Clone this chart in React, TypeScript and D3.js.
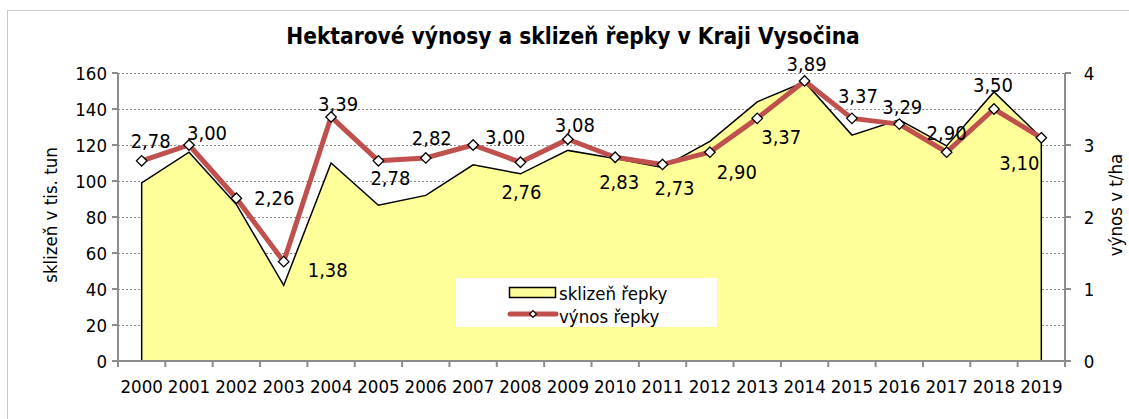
import { useRef, useEffect } from 'react';
import * as d3 from 'd3';

// data
const years = ['2000', '2001', '2002', '2003', '2004', '2005', '2006', '2007', '2008', '2009',
  '2010', '2011', '2012', '2013', '2014', '2015', '2016', '2017', '2018', '2019'];
const harvest = [99, 116, 87, 42, 110, 86.5, 92, 109, 104, 117, 112.5, 107.5, 122, 144, 155, 125.5, 134, 119.5, 149.5, 124];
const yieldHa = [2.78, 3.0, 2.26, 1.38, 3.39, 2.78, 2.82, 3.0, 2.76, 3.08, 2.83, 2.73, 2.9, 3.37, 3.89, 3.37, 3.29, 2.9, 3.5, 3.1];
const leftTicks = [0, 20, 40, 60, 80, 100, 120, 140, 160];
const rightTicks = [0, 1, 2, 3, 4];

// label placement relative to each point (dx, dy)
const labelOffsets = [
  [9, -20], [18, -12], [38, 0], [44, 8], [7, -13], [12, 17], [6, -20], [32, -8], [1, 30], [7, -14],
  [4, 25], [12, 23], [27, 20], [24, 18], [2, -17], [6, -23], [3, -17], [0, -19], [-1, -24], [-22, 25],
];

const FONT = "Tahoma, 'DejaVu Sans Condensed', 'DejaVu Sans', sans-serif";

const App = () => {
  const svgRef = useRef<SVGSVGElement>(null);

  useEffect(() => {
    const width = 1129;
    const height = 419;
    const margin = { top: 73, right: 64, bottom: 58, left: 118 };
    const svg = d3.select(svgRef.current);
    svg.selectAll('*').remove();

    svg.append('rect')
      .attr('x', 7.5).attr('y', 10.5)
      .attr('width', 1130).attr('height', 430)
      .attr('fill', 'white').attr('stroke', '#c8c8c8').attr('stroke-width', 1);

    const x = d3.scaleBand()
      .domain(years)
      .range([margin.left, width - margin.right]);
    const cx = (d: string) => (x(d) as number) + x.bandwidth() / 2;

    const yL = d3.scaleLinear().domain([0, 160]).range([height - margin.bottom, margin.top]);
    const yR = d3.scaleLinear().domain([0, 4]).range([height - margin.bottom, margin.top]);
    const x0 = margin.left;
    const x1 = width - margin.right;

    // gridlines
    svg.append('g')
      .selectAll('line')
      .data(leftTicks.slice(1))
      .enter()
      .append('line')
      .attr('x1', x0).attr('x2', x1)
      .attr('y1', d => Math.round(yL(d)) + 0.5)
      .attr('y2', d => Math.round(yL(d)) + 0.5)
      .attr('stroke', '#8c8c8c')
      .attr('stroke-width', 1.2)
      .attr('stroke-dasharray', '2,2');

    // area (harvest)
    const area = d3.area<number>()
      .x((_, i) => cx(years[i]))
      .y0(yL(0))
      .y1(d => yL(d));
    svg.append('path')
      .datum(harvest)
      .attr('d', area)
      .attr('fill', '#ffff99')
      .attr('stroke', 'black')
      .attr('stroke-width', 1.5)
      .attr('stroke-linejoin', 'miter');

    // axes
    const axisColor = '#8c8c8c';
    const axG = svg.append('g');
    axG.append('line')
      .attr('x1', x0).attr('x2', x0).attr('y1', yL(160)).attr('y2', yL(0))
      .attr('stroke', axisColor).attr('stroke-width', 2);
    axG.append('line')
      .attr('x1', x1).attr('x2', x1).attr('y1', yL(160)).attr('y2', yL(0))
      .attr('stroke', axisColor).attr('stroke-width', 2);
    axG.append('line')
      .attr('x1', x0 - 6).attr('x2', x1 + 6).attr('y1', yL(0)).attr('y2', yL(0))
      .attr('stroke', axisColor).attr('stroke-width', 2);

    axG.selectAll('line.lt')
      .data(leftTicks)
      .enter()
      .append('line')
      .attr('class', 'lt')
      .attr('x1', x0 - 6).attr('x2', x0)
      .attr('y1', d => yL(d)).attr('y2', d => yL(d))
      .attr('stroke', axisColor).attr('stroke-width', 2);
    axG.selectAll('text.ltl')
      .data(leftTicks)
      .enter()
      .append('text')
      .attr('class', 'ltl')
      .attr('x', x0 - 11)
      .attr('y', d => yL(d))
      .attr('dy', '0.36em')
      .attr('text-anchor', 'end')
      .attr('font-family', FONT)
      .attr('font-size', 18.5)
      .text(d => d);

    axG.selectAll('line.rt')
      .data(rightTicks)
      .enter()
      .append('line')
      .attr('class', 'rt')
      .attr('x1', x1).attr('x2', x1 + 6)
      .attr('y1', d => yR(d)).attr('y2', d => yR(d))
      .attr('stroke', axisColor).attr('stroke-width', 2);
    axG.selectAll('text.rtl')
      .data(rightTicks)
      .enter()
      .append('text')
      .attr('class', 'rtl')
      .attr('x', x1 + 24)
      .attr('y', d => yR(d))
      .attr('dy', '0.36em')
      .attr('text-anchor', 'middle')
      .attr('font-family', FONT)
      .attr('font-size', 18.5)
      .text(d => d);

    const bounds = years.map(d => x(d) as number).concat([x1]);
    axG.selectAll('line.xt')
      .data(bounds)
      .enter()
      .append('line')
      .attr('class', 'xt')
      .attr('x1', d => d).attr('x2', d => d)
      .attr('y1', yL(0)).attr('y2', yL(0) + 6)
      .attr('stroke', axisColor).attr('stroke-width', 2);
    axG.selectAll('text.xl')
      .data(years)
      .enter()
      .append('text')
      .attr('class', 'xl')
      .attr('x', d => cx(d))
      .attr('y', yL(0) + 25)
      .attr('dy', '0.36em')
      .attr('text-anchor', 'middle')
      .attr('font-family', FONT)
      .attr('font-size', 18.5)
      .text(d => d);

    // yield line
    const line = d3.line<number>()
      .x((_, i) => cx(years[i]))
      .y(d => yR(d));
    svg.append('path')
      .datum(yieldHa)
      .attr('d', line)
      .attr('fill', 'none')
      .attr('stroke', '#c0504d')
      .attr('stroke-width', 5)
      .attr('stroke-linejoin', 'round');

    svg.selectAll('path.mk')
      .data(yieldHa)
      .enter()
      .append('path')
      .attr('class', 'mk')
      .attr('d', d3.symbol().type(d3.symbolDiamond2).size(70))
      .attr('transform', (d, i) => `translate(${cx(years[i])},${yR(d)})`)
      .attr('fill', 'white')
      .attr('stroke', 'black')
      .attr('stroke-width', 1.3);

    svg.selectAll('text.lbl')
      .data(yieldHa)
      .enter()
      .append('text')
      .attr('class', 'lbl')
      .attr('x', (d, i) => cx(years[i]) + labelOffsets[i][0])
      .attr('y', (d, i) => yR(d) + labelOffsets[i][1])
      .attr('dy', '0.36em')
      .attr('text-anchor', 'middle')
      .attr('font-family', FONT)
      .attr('font-size', 20)
      .text(d => d3.format('.2f')(d).replace('.', ','));

    // titles
    svg.append('text')
      .attr('x', 573).attr('y', 36)
      .attr('dy', '0.36em')
      .attr('text-anchor', 'middle')
      .attr('font-family', FONT)
      .attr('font-weight', 'bold')
      .attr('font-size', 22.5)
      .text('Hektarové výnosy a sklizeň řepky v Kraji Vysočina');
    svg.append('text')
      .attr('transform', 'translate(50,215) rotate(-90)')
      .attr('dy', '0.36em')
      .attr('text-anchor', 'middle')
      .attr('font-family', FONT)
      .attr('font-size', 18.5)
      .text('sklizeň v tis. tun');
    svg.append('text')
      .attr('transform', 'translate(1115,205) rotate(-90)')
      .attr('dy', '0.36em')
      .attr('text-anchor', 'middle')
      .attr('font-family', FONT)
      .attr('font-size', 18.5)
      .text('výnos v t/ha');

    // legend
    const lg = svg.append('g');
    lg.append('rect')
      .attr('x', 456).attr('y', 278).attr('width', 261).attr('height', 49)
      .attr('fill', 'white');
    lg.append('rect')
      .attr('x', 509.5).attr('y', 287.5).attr('width', 46).attr('height', 10)
      .attr('fill', '#ffff99').attr('stroke', 'black').attr('stroke-width', 1.5);
    lg.append('text')
      .attr('x', 559).attr('y', 293)
      .attr('dy', '0.36em')
      .attr('font-family', FONT).attr('font-size', 18.5)
      .text('sklizeň řepky');
    lg.append('line')
      .attr('x1', 510).attr('x2', 556).attr('y1', 314).attr('y2', 314)
      .attr('stroke', '#c0504d').attr('stroke-width', 5).attr('stroke-linecap', 'round');
    lg.append('path')
      .attr('d', d3.symbol().type(d3.symbolDiamond2).size(30))
      .attr('transform', 'translate(533,314)')
      .attr('fill', 'white').attr('stroke', 'black').attr('stroke-width', 1.2);
    lg.append('text')
      .attr('x', 559).attr('y', 316)
      .attr('dy', '0.36em')
      .attr('font-family', FONT).attr('font-size', 18.5)
      .text('výnos řepky');
  }, []);

  return (
    <div style={{ position: 'absolute', left: 0, top: 0 }}>
      <svg ref={svgRef} width={1129} height={419}></svg>
    </div>
  );
};

export default App;
